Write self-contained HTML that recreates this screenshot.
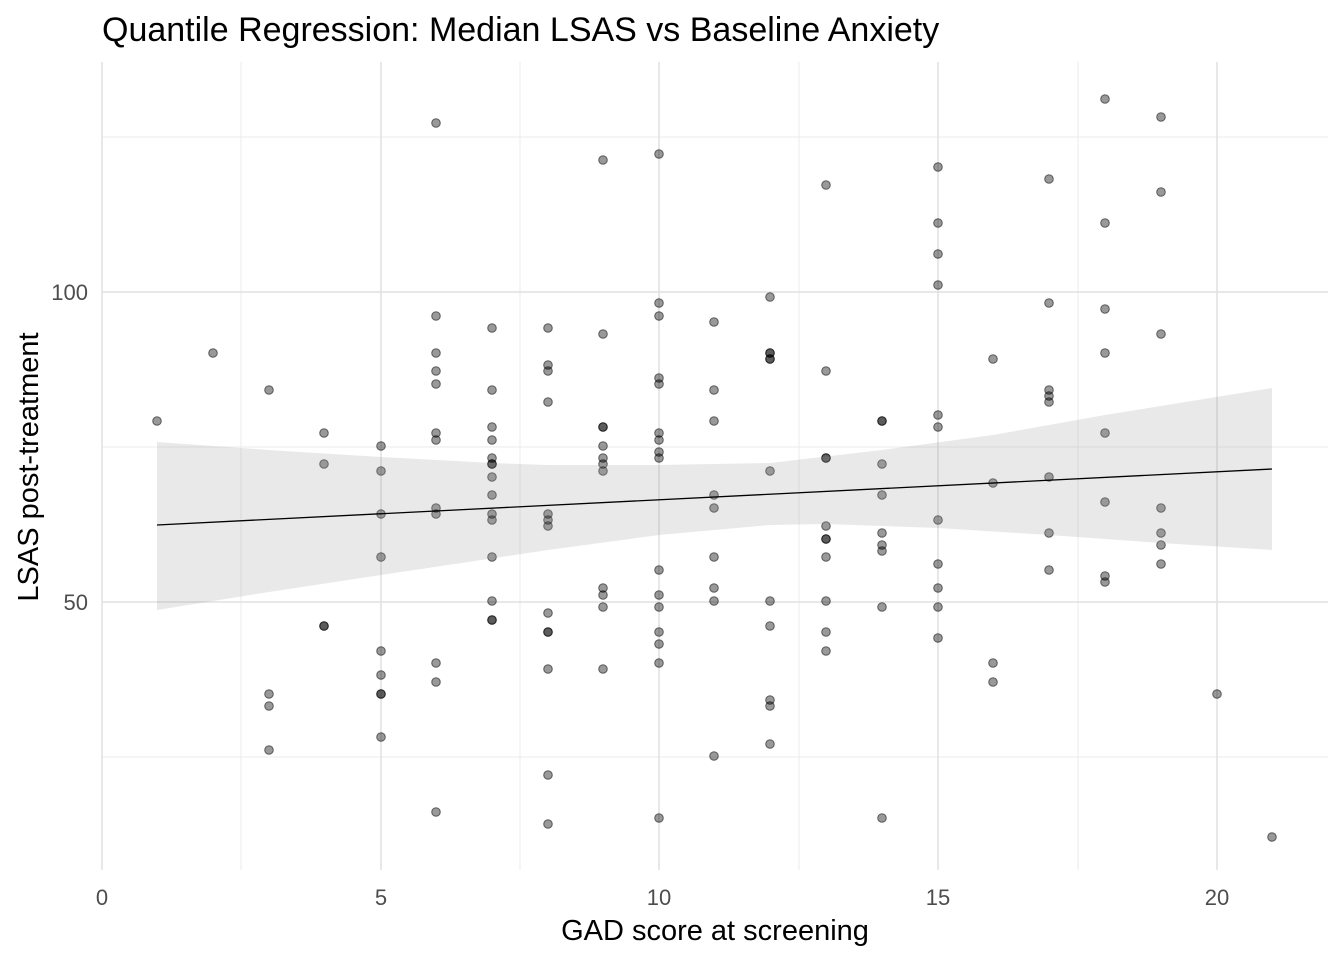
<!DOCTYPE html>
<html><head><meta charset="utf-8"><style>html,body{margin:0;padding:0;background:#fff}</style></head>
<body>
<svg width="1344" height="960" xmlns="http://www.w3.org/2000/svg" font-family="Liberation Sans, sans-serif">
<rect width="1344" height="960" fill="#fff"/>
<g stroke="#ebebeb" stroke-width="1">
<line x1="102" y1="137" x2="1328" y2="137"/><line x1="102" y1="447" x2="1328" y2="447"/><line x1="102" y1="757" x2="1328" y2="757"/>
<line x1="241" y1="62" x2="241" y2="870"/><line x1="520" y1="62" x2="520" y2="870"/><line x1="799" y1="62" x2="799" y2="870"/><line x1="1078" y1="62" x2="1078" y2="870"/>
</g>
<g stroke="#e0e0e0" stroke-width="1.5">
<line x1="102" y1="292" x2="1328" y2="292"/><line x1="102" y1="602" x2="1328" y2="602"/>
<line x1="102" y1="62" x2="102" y2="870"/><line x1="381" y1="62" x2="381" y2="870"/><line x1="659" y1="62" x2="659" y2="870"/><line x1="938" y1="62" x2="938" y2="870"/><line x1="1217" y1="62" x2="1217" y2="870"/>
</g>
<g fill="#000" fill-opacity="0.4" stroke="#000" stroke-opacity="0.55" stroke-width="1">
<circle cx="157" cy="421" r="4.3"/><circle cx="213" cy="353" r="4.3"/>
<circle cx="269" cy="390" r="4.3"/><circle cx="269" cy="694" r="4.3"/><circle cx="269" cy="706" r="4.3"/><circle cx="269" cy="750" r="4.3"/>
<circle cx="324" cy="433" r="4.3"/><circle cx="324" cy="464" r="4.3"/><circle cx="324" cy="626" r="4.3"/><circle cx="324" cy="626" r="4.3"/>
<circle cx="381" cy="446" r="4.3"/><circle cx="381" cy="471" r="4.3"/><circle cx="381" cy="514" r="4.3"/><circle cx="381" cy="557" r="4.3"/><circle cx="381" cy="651" r="4.3"/><circle cx="381" cy="675" r="4.3"/><circle cx="381" cy="694" r="4.3"/><circle cx="381" cy="694" r="4.3"/><circle cx="381" cy="737" r="4.3"/>
<circle cx="436" cy="123" r="4.3"/><circle cx="436" cy="316" r="4.3"/><circle cx="436" cy="353" r="4.3"/><circle cx="436" cy="371" r="4.3"/><circle cx="436" cy="384" r="4.3"/><circle cx="436" cy="433" r="4.3"/><circle cx="436" cy="440" r="4.3"/><circle cx="436" cy="508" r="4.3"/><circle cx="436" cy="514" r="4.3"/><circle cx="436" cy="663" r="4.3"/><circle cx="436" cy="682" r="4.3"/><circle cx="436" cy="812" r="4.3"/>
<circle cx="492" cy="328" r="4.3"/><circle cx="492" cy="390" r="4.3"/><circle cx="492" cy="427" r="4.3"/><circle cx="492" cy="440" r="4.3"/><circle cx="492" cy="458" r="4.3"/><circle cx="492" cy="464" r="4.3"/><circle cx="492" cy="464" r="4.3"/><circle cx="492" cy="477" r="4.3"/><circle cx="492" cy="495" r="4.3"/><circle cx="492" cy="514" r="4.3"/><circle cx="492" cy="520" r="4.3"/><circle cx="492" cy="557" r="4.3"/><circle cx="492" cy="601" r="4.3"/><circle cx="492" cy="620" r="4.3"/><circle cx="492" cy="620" r="4.3"/>
<circle cx="548" cy="328" r="4.3"/><circle cx="548" cy="365" r="4.3"/><circle cx="548" cy="371" r="4.3"/><circle cx="548" cy="402" r="4.3"/><circle cx="548" cy="514" r="4.3"/><circle cx="548" cy="520" r="4.3"/><circle cx="548" cy="526" r="4.3"/><circle cx="548" cy="613" r="4.3"/><circle cx="548" cy="632" r="4.3"/><circle cx="548" cy="632" r="4.3"/><circle cx="548" cy="669" r="4.3"/><circle cx="548" cy="775" r="4.3"/><circle cx="548" cy="824" r="4.3"/>
<circle cx="603" cy="160" r="4.3"/><circle cx="603" cy="334" r="4.3"/><circle cx="603" cy="427" r="4.3"/><circle cx="603" cy="427" r="4.3"/><circle cx="603" cy="446" r="4.3"/><circle cx="603" cy="458" r="4.3"/><circle cx="603" cy="464" r="4.3"/><circle cx="603" cy="471" r="4.3"/><circle cx="603" cy="588" r="4.3"/><circle cx="603" cy="595" r="4.3"/><circle cx="603" cy="607" r="4.3"/><circle cx="603" cy="669" r="4.3"/>
<circle cx="659" cy="154" r="4.3"/><circle cx="659" cy="303" r="4.3"/><circle cx="659" cy="316" r="4.3"/><circle cx="659" cy="378" r="4.3"/><circle cx="659" cy="384" r="4.3"/><circle cx="659" cy="433" r="4.3"/><circle cx="659" cy="440" r="4.3"/><circle cx="659" cy="452" r="4.3"/><circle cx="659" cy="458" r="4.3"/><circle cx="659" cy="570" r="4.3"/><circle cx="659" cy="595" r="4.3"/><circle cx="659" cy="607" r="4.3"/><circle cx="659" cy="632" r="4.3"/><circle cx="659" cy="644" r="4.3"/><circle cx="659" cy="663" r="4.3"/><circle cx="659" cy="818" r="4.3"/>
<circle cx="714" cy="322" r="4.3"/><circle cx="714" cy="390" r="4.3"/><circle cx="714" cy="421" r="4.3"/><circle cx="714" cy="495" r="4.3"/><circle cx="714" cy="508" r="4.3"/><circle cx="714" cy="557" r="4.3"/><circle cx="714" cy="588" r="4.3"/><circle cx="714" cy="601" r="4.3"/><circle cx="714" cy="756" r="4.3"/>
<circle cx="770" cy="297" r="4.3"/><circle cx="770" cy="353" r="4.3"/><circle cx="770" cy="353" r="4.3"/><circle cx="770" cy="359" r="4.3"/><circle cx="770" cy="359" r="4.3"/><circle cx="770" cy="471" r="4.3"/><circle cx="770" cy="601" r="4.3"/><circle cx="770" cy="626" r="4.3"/><circle cx="770" cy="700" r="4.3"/><circle cx="770" cy="706" r="4.3"/><circle cx="770" cy="744" r="4.3"/>
<circle cx="826" cy="185" r="4.3"/><circle cx="826" cy="371" r="4.3"/><circle cx="826" cy="458" r="4.3"/><circle cx="826" cy="458" r="4.3"/><circle cx="826" cy="526" r="4.3"/><circle cx="826" cy="539" r="4.3"/><circle cx="826" cy="539" r="4.3"/><circle cx="826" cy="557" r="4.3"/><circle cx="826" cy="601" r="4.3"/><circle cx="826" cy="632" r="4.3"/><circle cx="826" cy="651" r="4.3"/>
<circle cx="882" cy="421" r="4.3"/><circle cx="882" cy="421" r="4.3"/><circle cx="882" cy="464" r="4.3"/><circle cx="882" cy="495" r="4.3"/><circle cx="882" cy="533" r="4.3"/><circle cx="882" cy="545" r="4.3"/><circle cx="882" cy="551" r="4.3"/><circle cx="882" cy="607" r="4.3"/><circle cx="882" cy="818" r="4.3"/>
<circle cx="938" cy="167" r="4.3"/><circle cx="938" cy="223" r="4.3"/><circle cx="938" cy="254" r="4.3"/><circle cx="938" cy="285" r="4.3"/><circle cx="938" cy="415" r="4.3"/><circle cx="938" cy="427" r="4.3"/><circle cx="938" cy="520" r="4.3"/><circle cx="938" cy="564" r="4.3"/><circle cx="938" cy="588" r="4.3"/><circle cx="938" cy="607" r="4.3"/><circle cx="938" cy="638" r="4.3"/>
<circle cx="993" cy="359" r="4.3"/><circle cx="993" cy="483" r="4.3"/><circle cx="993" cy="663" r="4.3"/><circle cx="993" cy="682" r="4.3"/>
<circle cx="1049" cy="179" r="4.3"/><circle cx="1049" cy="303" r="4.3"/><circle cx="1049" cy="390" r="4.3"/><circle cx="1049" cy="396" r="4.3"/><circle cx="1049" cy="402" r="4.3"/><circle cx="1049" cy="477" r="4.3"/><circle cx="1049" cy="533" r="4.3"/><circle cx="1049" cy="570" r="4.3"/>
<circle cx="1105" cy="99" r="4.3"/><circle cx="1105" cy="223" r="4.3"/><circle cx="1105" cy="309" r="4.3"/><circle cx="1105" cy="353" r="4.3"/><circle cx="1105" cy="433" r="4.3"/><circle cx="1105" cy="502" r="4.3"/><circle cx="1105" cy="576" r="4.3"/><circle cx="1105" cy="582" r="4.3"/>
<circle cx="1161" cy="117" r="4.3"/><circle cx="1161" cy="192" r="4.3"/><circle cx="1161" cy="334" r="4.3"/><circle cx="1161" cy="508" r="4.3"/><circle cx="1161" cy="533" r="4.3"/><circle cx="1161" cy="545" r="4.3"/><circle cx="1161" cy="564" r="4.3"/>
<circle cx="1217" cy="694" r="4.3"/><circle cx="1272" cy="837" r="4.3"/>
</g>
<polygon fill="#999" fill-opacity="0.22" points="157,442 269,450 381,457 492,463 548,465 659,465 770,463 882,450 993,435 1105,415 1272,388 1272,550 1161,543 1049,535 938,528 826,524 770,525 659,535 548,550 381,575 269,592 157,610"/>
<line x1="157" y1="525" x2="1272" y2="469" stroke="#000" stroke-width="1.3"/>
<g font-size="22" fill="#4d4d4d">
<text x="88" y="300" text-anchor="end">100</text><text x="88" y="610" text-anchor="end">50</text>
<text x="102" y="905" text-anchor="middle">0</text><text x="381" y="905" text-anchor="middle">5</text><text x="659" y="905" text-anchor="middle">10</text><text x="938" y="905" text-anchor="middle">15</text><text x="1217" y="905" text-anchor="middle">20</text>
</g>
<text x="715" y="940" text-anchor="middle" font-size="29">GAD score at screening</text>
<text transform="translate(38,467) rotate(-90)" text-anchor="middle" font-size="29">LSAS post-treatment</text>
<text x="102" y="41" font-size="34">Quantile Regression: Median LSAS vs Baseline Anxiety</text>
</svg>
</body></html>
